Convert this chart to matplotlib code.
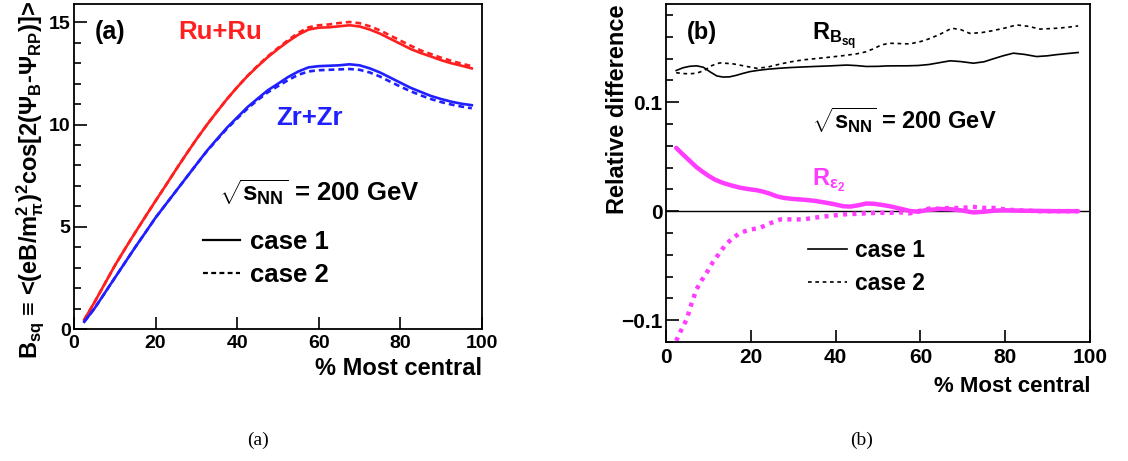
import matplotlib
matplotlib.use('Agg')
import matplotlib.pyplot as plt
from matplotlib.lines import Line2D
from matplotlib.ticker import MultipleLocator

# ---------------- data ----------------
cent = [2.5, 5, 7.5, 10, 12.5, 15, 17.5, 20, 22.5, 25, 27.5, 30, 32.5, 35, 37.5, 40,
        42.5, 45, 47.5, 50, 52.5, 55, 57.5, 60, 62.5, 65, 67.5, 70, 72.5, 75, 77.5,
        80, 82.5, 85, 87.5, 90, 92.5, 95, 97.5]
ru_case1 = [0.45, 1.3, 2.2, 3.1, 3.92, 4.72, 5.5, 6.27, 7.03, 7.8, 8.55, 9.28, 9.97,
            10.62, 11.25, 11.83, 12.37, 12.85, 13.3, 13.7, 14.07, 14.4, 14.65, 14.74,
            14.76, 14.81, 14.86, 14.8, 14.65, 14.45, 14.2, 13.95, 13.7, 13.5, 13.33,
            13.15, 13.0, 12.88, 12.75]
ru_case2 = [0.45, 1.3, 2.2, 3.1, 3.92, 4.72, 5.5, 6.27, 7.03, 7.8, 8.55, 9.28, 9.97,
            10.62, 11.25, 11.83, 12.38, 12.88, 13.34, 13.75, 14.14, 14.49, 14.76, 14.86,
            14.9, 14.97, 15.02, 14.96, 14.81, 14.61, 14.36, 14.11, 13.86, 13.63, 13.45,
            13.27, 13.12, 12.98, 12.86]
zr_case1 = [0.35, 1.0, 1.75, 2.5, 3.25, 4.0, 4.72, 5.45, 6.1, 6.75, 7.4, 8.05, 8.7,
            9.28, 9.85, 10.35, 10.85, 11.27, 11.68, 12.0, 12.33, 12.6, 12.8, 12.86,
            12.88, 12.9, 12.95, 12.9, 12.75, 12.55, 12.3, 12.05, 11.8, 11.6, 11.4,
            11.25, 11.12, 11.02, 10.95]
zr_case2 = [0.35, 1.0, 1.75, 2.5, 3.25, 4.0, 4.72, 5.45, 6.1, 6.75, 7.4, 8.05, 8.68,
            9.25, 9.8, 10.3, 10.78, 11.2, 11.58, 11.88, 12.18, 12.44, 12.6, 12.66,
            12.68, 12.7, 12.72, 12.68, 12.55, 12.35, 12.1, 11.86, 11.63, 11.43, 11.25,
            11.1, 10.98, 10.88, 10.8]

rb_x1 = [2.4, 4, 5.5, 7.2, 8.8, 10.5, 12, 13.5, 15, 16.5, 18, 19.8, 22, 24, 26.5,
         29.2, 32, 35, 38.5, 42.6, 45, 47.2, 50, 52, 54.5, 56.8, 59.5, 62, 64.5, 67,
         69.5, 72.5, 75, 77, 79.5, 81.9, 84.5, 87.4, 90, 92, 94.5, 97.2]
rb_case1 = [0.129, 0.1315, 0.1328, 0.1333, 0.132, 0.1275, 0.124, 0.123, 0.1232,
            0.1245, 0.1262, 0.128, 0.1293, 0.1302, 0.131, 0.1317, 0.1322, 0.1327,
            0.1332, 0.134, 0.1335, 0.1327, 0.1328, 0.1332, 0.1333, 0.1333, 0.1336,
            0.1345, 0.1362, 0.1379, 0.1372, 0.1357, 0.137, 0.1395, 0.1425, 0.1449,
            0.1438, 0.1418, 0.1425, 0.1435, 0.1445, 0.1455]
rb_x2 = [2.4, 4, 5.6, 7.2, 9, 10.8, 12.7, 14.5, 16, 18, 21.4, 24, 27, 29.5, 32.4,
         35, 38, 41.5, 45, 47, 49, 50.8, 52.8, 55, 57.5, 60, 62, 64.5, 67.4, 69.5,
         71.7, 74.5, 77, 80, 82.7, 85.5, 88.2, 91, 93, 95, 97.2]
rb_case2 = [0.127, 0.1262, 0.126, 0.1265, 0.129, 0.1335, 0.136, 0.1355, 0.135,
            0.1335, 0.131, 0.1322, 0.135, 0.137, 0.1388, 0.1398, 0.141, 0.1425,
            0.1443, 0.146, 0.149, 0.1525, 0.154, 0.1537, 0.1534, 0.1555, 0.158, 0.162,
            0.1678, 0.1665, 0.163, 0.1638, 0.1655, 0.168, 0.1708, 0.1695, 0.167,
            0.1675, 0.168, 0.1688, 0.1699]
re_x1 = [2.4, 4, 5.5, 7, 8.5, 10, 11.5, 13.5, 15.5, 17.5, 19.5, 21.4, 23, 24.5, 26,
         27.7, 30, 32.5, 35, 37.1, 39.5, 41.8, 43.5, 45.5, 47.2, 49, 50.8, 52.8, 55,
         57.5, 59.5, 61.5, 64.6, 67, 69.5, 72.5, 75, 77.5, 80, 84, 88, 92, 97.2]
re_case1 = [0.058, 0.052, 0.0465, 0.041, 0.0365, 0.0325, 0.029, 0.0258, 0.0235,
            0.0215, 0.0202, 0.0192, 0.0178, 0.016, 0.0138, 0.0122, 0.0112, 0.0105,
            0.0095, 0.0082, 0.0065, 0.0045, 0.0042, 0.0055, 0.007, 0.0068, 0.0058,
            0.0045, 0.0025, 0.0002, -0.0005, 0.001, 0.002, 0.0018, 0.0008, -0.0012,
            -0.0005, 0.0005, 0.0008, 0.0004, 0.0002, 0.0, 0.0]
re_x2 = [2.4, 3.6, 4.9, 6, 7.2, 8.4, 9.6, 11.1, 12.7, 14, 15.5, 17.5, 19.8, 22.2,
         24.5, 26.9, 29.5, 32.4, 35, 37, 39.5, 41.8, 44.5, 47, 50, 52.8, 55, 57.5,
         60, 62.3, 64.5, 67, 69.5, 72.2, 75, 77.3, 80, 82, 85, 88, 91, 94, 97.2]
re_case2 = [-0.119, -0.109, -0.099, -0.085, -0.0716, -0.0635, -0.0564, -0.0465,
            -0.038, -0.031, -0.0255, -0.0198, -0.017, -0.0152, -0.0112, -0.0076,
            -0.0075, -0.0076, -0.006, -0.005, -0.004, -0.003, -0.0025, -0.002,
            -0.0015, -0.0015, -0.001, -0.002, 0.0005, 0.0025, 0.0022, 0.003, 0.0028,
            0.004, 0.003, 0.003, 0.0015, 0.001, 0.0005, 0.0, 0.0, 0.0, 0.0]

left_xticks = [0, 20, 40, 60, 80, 100]
left_yticks = [0, 5, 10, 15]
right_xticks = [0, 20, 40, 60, 80, 100]
right_yticks = [-0.1, 0, 0.1]
right_ytick_labels = ['\u22120.1', '0', '0.1']
legend_labels = ['case 1', 'case 2']

# ---------------- style ----------------
plt.rcParams['font.family'] = ['Liberation Sans', 'DejaVu Sans']
plt.rcParams['font.weight'] = 'bold'
plt.rcParams['axes.labelweight'] = 'bold'
plt.rcParams['mathtext.fontset'] = 'custom'
plt.rcParams['mathtext.rm'] = 'Liberation Sans:bold'
plt.rcParams['mathtext.it'] = 'Liberation Sans:bold'
plt.rcParams['mathtext.bf'] = 'Liberation Sans:bold'
plt.rcParams['mathtext.sf'] = 'Liberation Sans:bold'

RED = '#ff1f1f'
BLUE = '#1f1fff'
MAG = '#ff3cff'

W, H = 1128, 461
fig = plt.figure(figsize=(W / 100, H / 100), dpi=100)


def fx(x):
    return x / W


def fy(y):
    return 1 - y / H


def make_axes(x0, y0, x1, y1):
    return fig.add_axes([fx(x0), fy(y1), (x1 - x0) / W, (y1 - y0) / H])


def style_axes(ax, fs):
    for s in ax.spines.values():
        s.set_linewidth(1.3)
    ax.tick_params(which='both', direction='in', top=False, right=False,
                   labelsize=fs, width=1.2)
    ax.tick_params(which='major', length=9)
    ax.tick_params(which='minor', length=5)
    ax.tick_params(axis='x', pad=4)
    ax.tick_params(axis='y', pad=2.5)
    ax.xaxis.set_minor_locator(plt.NullLocator())


# ---------------- left panel ----------------
ax1 = make_axes(74, 4, 482, 329)
ax1.plot(cent, ru_case1, color=RED, lw=1.9)
ax1.plot(cent, ru_case2, color=RED, lw=1.9, linestyle=(0, (2.2, 1.5)))
ax1.plot(cent, zr_case1, color=BLUE, lw=1.9)
ax1.plot(cent, zr_case2, color=BLUE, lw=1.9, linestyle=(0, (2.2, 1.5)))
ax1.set_xlim(0, 100)
ax1.set_ylim(0, 15.9)
ax1.set_xticks(left_xticks)
ax1.set_yticks(left_yticks)
ax1.yaxis.set_minor_locator(MultipleLocator(1))
style_axes(ax1, 14)

ax1.text(0.05, 0.915, '(a)', transform=ax1.transAxes, fontsize=18, va='center')
ax1.text(0.255, 0.915, 'Ru+Ru', transform=ax1.transAxes, fontsize=18.5,
         color=RED, va='center')
ax1.text(0.495, 0.65, 'Zr+Zr', transform=ax1.transAxes, fontsize=18.5,
         color=BLUE, va='center')
ax1.text(0.355, 0.42, r'$\sqrt{s_{NN}}$ = 200 GeV', transform=ax1.transAxes,
         fontsize=18.5, va='center')

h1 = [Line2D([], [], color='black', lw=1.6),
      Line2D([], [], color='black', lw=1.6, linestyle=(0, (2.2, 1.5)))]
ax1.legend(h1, legend_labels, frameon=False, fontsize=18.5, loc='upper left',
           bbox_to_anchor=(0.315, 0.305), handlelength=1.45, handletextpad=0.4,
           labelspacing=0.35, borderpad=0, borderaxespad=0)

ax1.set_xlabel('% Most central', fontsize=17, loc='right', labelpad=4)
fig.text(fx(30), fy(1), 'B$_{sq}$ \u2261 <(eB/m$_{\\pi}^{2}$)$^{2}$cos[2(\u03a8$_{B}$-\u03a8$_{RP}$)]>',
         rotation=90, ha='center', va='top', fontsize=17)

# ---------------- right panel ----------------
ax2 = make_axes(666, 4, 1090, 342)
ax2.axhline(0, color='black', lw=1.0)
ax2.plot(rb_x1, rb_case1, color='black', lw=1.2)
ax2.plot(rb_x2, rb_case2, color='black', lw=1.2, linestyle=(0, (2.2, 2.2)))
ax2.plot(re_x1, re_case1, color=MAG, lw=3.2, solid_capstyle='round')
ax2.plot(re_x2, re_case2, color=MAG, lw=3.2, linestyle=(0, (0.9, 1.2)))
ax2.set_xlim(0, 100)
ax2.set_ylim(-0.12, 0.19)
ax2.set_xticks(right_xticks)
ax2.set_yticks(right_yticks)
ax2.set_yticklabels(right_ytick_labels)
ax2.yaxis.set_minor_locator(MultipleLocator(0.02))
style_axes(ax2, 15)

ax2.text(0.05, 0.915, '(b)', transform=ax2.transAxes, fontsize=17, va='center')
ax2.text(0.345, 0.905, r'R$_{B_{sq}}$', transform=ax2.transAxes, fontsize=17,
         va='center')
ax2.text(0.345, 0.655, r'$\sqrt{s_{NN}}$ = 200 GeV', transform=ax2.transAxes,
         fontsize=17, va='center')
ax2.text(0.345, 0.48, r'R$_{\epsilon_{2}}$', transform=ax2.transAxes, fontsize=17,
         color=MAG, va='center')

h2 = [Line2D([], [], color='black', lw=1.2),
      Line2D([], [], color='black', lw=1.2, linestyle=(0, (2.2, 2.2)))]
ax2.legend(h2, legend_labels, frameon=False, fontsize=16.5, loc='upper left',
           bbox_to_anchor=(0.335, 0.305), handlelength=1.7, handletextpad=0.35,
           labelspacing=0.45, borderpad=0, borderaxespad=0)

ax2.set_xlabel('% Most central', fontsize=16, loc='right', labelpad=7)
fig.text(fx(618), fy(4), 'Relative difference', rotation=90, ha='center',
         va='top', fontsize=17)

# ---------------- captions ----------------
fig.text(fx(258), fy(440), '(a)', family='Liberation Serif', fontweight='normal',
         fontsize=14, ha='center', va='center')
fig.text(fx(862), fy(440), '(b)', family='Liberation Serif', fontweight='normal',
         fontsize=14, ha='center', va='center')

fig.savefig('out.png', dpi=100)
